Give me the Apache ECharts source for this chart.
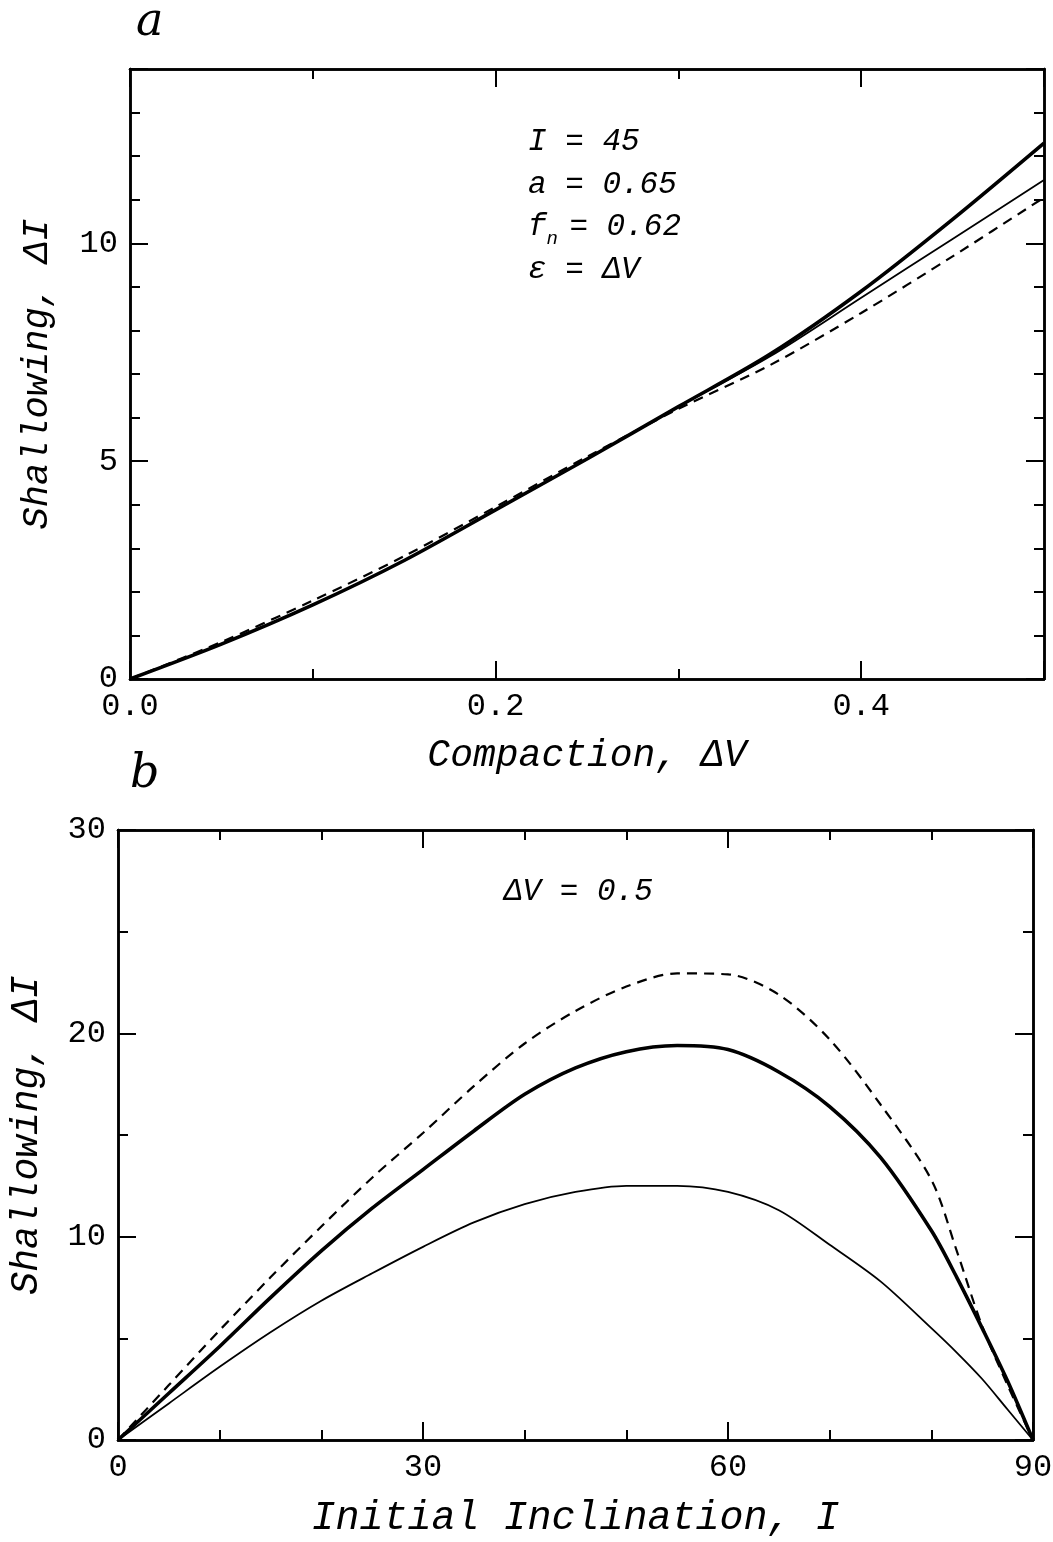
<!DOCTYPE html>
<html>
<head>
<meta charset="utf-8">
<script src="https://cdn.jsdelivr.net/npm/echarts@6/dist/echarts.min.js"></script>
<style>
html, body { margin: 0; padding: 0; background: #fff; }
#main { width: 1053px; height: 1542px; }
</style>
</head>
<body>
<div id="main"></div>
<script>
// panel a: shallowing vs compaction, I = 45
var compaction = [0, 0.05, 0.1, 0.15, 0.2, 0.25, 0.3, 0.35, 0.4, 0.45, 0.5];
var aThick  = [0, 0.8, 1.7, 2.72, 3.88, 5.05, 6.25, 7.45, 8.9, 10.55, 12.3];
var aThin   = [0, 0.8, 1.7, 2.72, 3.88, 5.05, 6.25, 7.4, 8.75, 10.1, 11.45];
var aDashed = [0, 0.85, 1.8, 2.82, 3.95, 5.1, 6.2, 7.2, 8.4, 9.7, 11.05];
var aXLabels = [0, 0.2, 0.4];
var aYLabels = [0, 5, 10];

// panel b: shallowing vs initial inclination, dV = 0.5
var inclination = [0, 5, 10, 15, 20, 25, 30, 35, 40, 45, 50, 55, 60, 65, 70, 75, 80, 82.5, 85, 87.5, 90];
var bThick  = [0, 2.3, 4.6, 7.0, 9.3, 11.4, 13.3, 15.2, 17.0, 18.3, 19.1, 19.4, 19.2, 18.1, 16.4, 13.9, 10.3, 8.0, 5.5, 2.9, 0];
var bThin   = [0, 1.8, 3.6, 5.3, 6.85, 8.2, 9.5, 10.7, 11.6, 12.2, 12.5, 12.5, 12.2, 11.3, 9.6, 7.8, 5.5, 4.3, 3.0, 1.5, 0];
var bDashed = [0, 2.7, 5.4, 8.0, 10.5, 12.9, 15.1, 17.4, 19.5, 21.1, 22.3, 22.95, 22.9, 21.9, 19.7, 16.5, 12.8, 9.3, 5.6, 2.7, 0];
var bXLabels = [0, 30, 60, 90];
var bYLabels = [0, 10, 20, 30];

var mono = "'Liberation Mono', 'DejaVu Sans Mono', monospace";

function pairs(xs, ys) {
    return xs.map(function(x, i) { return [x, ys[i]]; });
}

// one axis of the box frame; labelled axes carry the long ticks
function frameAxis(gi, pos, min, max, step, tickLen, labels, fmt) {
    var ax = {
        type: 'value', gridIndex: gi, position: pos, min: min, max: max, interval: step,
        axisLine: { show: true, onZero: false, lineStyle: { color: '#000', width: 2.5 } },
        axisTick: { show: true, inside: true, length: tickLen, lineStyle: { color: '#000', width: 2 } },
        axisLabel: { show: false },
        splitLine: { show: false },
        nameMoveOverlap: false
    };
    if (labels) {
        ax.axisLabel = {
            show: true, color: '#000', fontFamily: mono, fontSize: 32, margin: 12,
            formatter: function(v) {
                for (var i = 0; i < labels.length; i++) {
                    if (Math.abs(labels[i] - v) < 1e-6) return fmt ? fmt(labels[i]) : String(labels[i]);
                }
                return '';
            }
        };
    }
    return ax;
}

function named(ax, name, gap, size) {
    ax.name = name;
    ax.nameLocation = 'middle';
    ax.nameGap = gap;
    ax.nameTextStyle = { color: '#000', fontFamily: mono, fontStyle: 'italic', fontSize: size };
    return ax;
}

var chart = echarts.init(document.getElementById('main'));

var lineThick  = { color: '#000', width: 3.6, type: 'solid' };
var lineThin   = { color: '#000', width: 1.8, type: 'solid' };
var lineDashed = { color: '#000', width: 2.2, type: [10, 7] };

function curve(name, gi, xs, ys, style) {
    return {
        name: name, type: 'line', xAxisIndex: gi * 4, yAxisIndex: gi * 4,
        data: pairs(xs, ys), showSymbol: false, symbol: 'none', smooth: 0.3,
        lineStyle: style, silent: true, animation: false
    };
}

var option = {
    backgroundColor: '#fff',
    animation: false,
    grid: [
        { left: 130, top: 69, width: 914, height: 610, outerBoundsMode: 'none' },
        { left: 118, top: 830, width: 915, height: 610, outerBoundsMode: 'none' }
    ],
    xAxis: [
        named(frameAxis(0, 'bottom', 0, 0.5, 0.2, 18, aXLabels, function(v) { return v.toFixed(1); }), 'Compaction, \u0394V', 58, 38),
        frameAxis(0, 'bottom', 0, 0.5, 0.1, 10),
        frameAxis(0, 'top', 0, 0.5, 0.2, 18),
        frameAxis(0, 'top', 0, 0.5, 0.1, 10),
        named(frameAxis(1, 'bottom', 0, 90, 30, 18, bXLabels), 'Initial Inclination, I', 58, 40),
        frameAxis(1, 'bottom', 0, 90, 10, 10),
        frameAxis(1, 'top', 0, 90, 30, 18),
        frameAxis(1, 'top', 0, 90, 10, 10)
    ],
    yAxis: [
        named(frameAxis(0, 'left', 0, 14, 5, 18, aYLabels), 'Shallowing, \u0394I', 74, 37),
        frameAxis(0, 'left', 0, 14, 1, 10),
        frameAxis(0, 'right', 0, 14, 5, 18),
        frameAxis(0, 'right', 0, 14, 1, 10),
        named(frameAxis(1, 'left', 0, 30, 10, 18, bYLabels), 'Shallowing, \u0394I', 72, 38),
        frameAxis(1, 'left', 0, 30, 5, 10),
        frameAxis(1, 'right', 0, 30, 10, 18),
        frameAxis(1, 'right', 0, 30, 5, 10)
    ],
    series: [
        curve('a thick', 0, compaction, aThick, lineThick),
        curve('a thin', 0, compaction, aThin, lineThin),
        curve('a dashed', 0, compaction, aDashed, lineDashed),
        curve('b thick', 1, inclination, bThick, lineThick),
        curve('b thin', 1, inclination, bThin, lineThin),
        curve('b dashed', 1, inclination, bDashed, lineDashed)
    ],
    graphic: [
        { type: 'text', left: 136, top: 0, style: { text: 'a', font: 'italic 46px "DejaVu Serif", "Liberation Serif", serif', fill: '#000' } },
        { type: 'text', left: 130, top: 752, style: { text: 'b', font: 'italic 46px "DejaVu Serif", "Liberation Serif", serif', fill: '#000' } },
        { type: 'text', left: 528, top: 126, style: { text: 'I = 45', font: 'italic 31px ' + mono, fill: '#000' } },
        { type: 'text', left: 528, top: 169, style: { text: 'a = 0.65', font: 'italic 31px ' + mono, fill: '#000' } },
        { type: 'text', left: 528, top: 211, style: {
            text: '{t|f}{s|n }{t|= 0.62}',
            rich: {
                t: { fontFamily: mono, fontStyle: 'italic', fontSize: 31, lineHeight: 36, verticalAlign: 'bottom', fill: '#000' },
                s: { fontFamily: mono, fontStyle: 'italic', fontSize: 19, lineHeight: 36, verticalAlign: 'bottom', padding: [0, 0, -6, 0], fill: '#000' }
            }
        } },
        { type: 'text', left: 528, top: 254, style: { text: '\u03b5 = \u0394V', font: 'italic 31px ' + mono, fill: '#000' } },
        { type: 'text', left: 504, top: 876, style: { text: '\u0394V = 0.5', font: 'italic 31px ' + mono, fill: '#000' } }
    ]
};

chart.setOption(option);

window.addEventListener('resize', function() {
    chart.resize();
});
</script>
</body>
</html>
